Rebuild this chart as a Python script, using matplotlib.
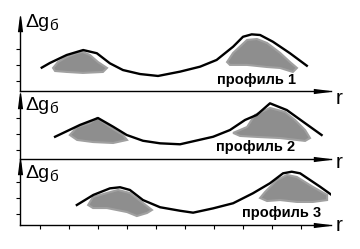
import numpy as np
import matplotlib.pyplot as plt

# кривые Δg_б по профилям (x - r, y - Δg)
x1 = [1.06, 1.34, 1.92, 2.49, 2.96, 3.41, 3.86, 4.45, 5.07, 5.83, 6.52, 7.09, 7.66, 8.0, 8.3, 8.59, 9.03, 9.62, 10.2]
y1 = [1.46, 1.75, 2.25, 2.56, 2.36, 1.73, 1.31, 1.06, 0.94, 1.21, 1.52, 1.94, 2.77, 3.39, 3.54, 3.5, 3.08, 2.36, 1.58]

x2 = [1.52, 2.38, 3.0, 3.52, 3.99, 4.55, 5.14, 5.83, 6.97, 7.55, 8.07, 8.47, 8.93, 9.51, 10.07, 10.71]
y2 = [1.39, 2.13, 2.56, 2.02, 1.5, 1.14, 0.98, 0.92, 1.39, 1.81, 2.44, 2.75, 3.48, 3.06, 2.33, 1.5]

x3 = [2.27, 2.84, 3.41, 3.76, 4.1, 4.55, 5.14, 5.83, 6.28, 6.97, 7.66, 8.34, 8.93, 9.38, 9.68, 9.97, 10.66, 11.41]
y3 = [1.25, 1.88, 2.29, 2.36, 2.19, 1.56, 1.11, 0.89, 0.77, 1.04, 1.36, 1.98, 2.61, 3.23, 3.33, 3.23, 2.39, 1.42]

# контуры тел (серые области)
tela1 = [
    ([1.45, 1.62, 1.93, 2.28, 2.48, 2.72, 3.0, 3.31, 3.17, 2.48, 1.93, 1.52],
     [1.44, 1.81, 2.13, 2.38, 2.44, 2.25, 1.81, 1.44, 1.19, 1.13, 1.19, 1.25]),
    ([7.66, 8.14, 8.48, 8.83, 9.28, 9.62, 9.86, 9.72, 9.28, 8.83, 8.14, 7.55, 7.45],
     [2.38, 3.19, 3.25, 3.0, 2.38, 1.81, 1.44, 1.19, 1.44, 1.5, 1.63, 1.63, 1.81]),
]
tela2 = [
    ([2.03, 2.28, 2.72, 2.97, 3.41, 3.86, 4.0, 3.52, 2.83, 2.28],
     [1.5, 2.0, 2.25, 2.56, 2.0, 1.5, 1.19, 1.0, 1.06, 1.19]),
    ([7.66, 8.14, 8.41, 8.93, 9.45, 9.79, 10.14, 10.31, 10.14, 9.28, 8.48, 7.9],
     [1.63, 2.0, 2.75, 3.19, 2.94, 2.44, 1.81, 1.31, 1.13, 1.31, 1.38, 1.44]),
]
tela3 = [
    ([2.66, 2.83, 3.31, 3.69, 4.1, 4.55, 4.86, 4.69, 4.34, 4.0, 3.31, 2.83],
     [1.25, 1.75, 2.0, 2.19, 2.0, 1.38, 0.94, 0.75, 0.56, 0.81, 1.06, 1.06]),
    ([8.59, 8.76, 9.17, 9.52, 9.86, 10.41, 10.9, 10.9, 10.41, 9.86, 9.28, 8.83],
     [1.69, 2.06, 2.81, 3.13, 3.0, 2.38, 1.88, 1.56, 1.44, 1.44, 1.56, 1.5]),
]

nazv = ['профиль 1', 'профиль 2', 'профиль 3']
yticks = [[0.625, 1.625, 2.625], [0.56, 1.56, 2.56], [0.69, 1.69, 2.69]]
xticks = [1, 2, 3, 4, 5, 6, 7, 8, 9, 10]

W, H = 360, 249
fig = plt.figure(figsize=(W / 100, H / 100), dpi=100)
fig.patch.set_facecolor('white')

# положение осей в пикселях: линия оси r и высота панели
os_px = [91, 159, 225]
verh = [4.44, 3.9, 3.9]
nadp_y = [(0.69, 4.0), (0.75, 3.06), (0.75, 2.94)]
nadp_x = [8.45, 8.45, 9.34]
r_y = [-0.5, -0.25, -0.06]

x_lev, x_prav = (20 - 11) / 29, (331 - 11) / 29
shrift = 'Liberation Sans'

dannye = [(x1, y1, tela1), (x2, y2, tela2), (x3, y3, tela3)]
for i, (xs, ys, tela) in enumerate(dannye):
    niz = (H - os_px[i]) / H
    ax = fig.add_axes([20 / W, niz, (331 - 20) / W, verh[i] * 16 / H])
    ax.set_xlim(x_lev, x_prav)
    ax.set_ylim(0, verh[i])
    ax.patch.set_alpha(0)
    for s in ['top', 'right']:
        ax.spines[s].set_visible(False)
    for s in ['left', 'bottom']:
        ax.spines[s].set_linewidth(1.0)
    ax.set_yticks(yticks[i])
    ax.set_yticklabels([])
    if i == 2:
        ax.set_xticks(xticks)
    else:
        ax.set_xticks([])
    ax.set_xticklabels([])
    ax.tick_params(length=3, width=0.8, direction='out')

    for tx, ty in tela:
        ax.fill(tx, ty, color='#8e8e8e', lw=1.5, ec='#a0a0a0', zorder=2)
    ax.plot(xs, ys, color='black', lw=1.7, zorder=3, solid_joinstyle='round')

    # стрелки осей
    ax.plot([x_prav - 0.35], [0], marker=[(-4, -1), (4, 0), (-4, 1)], ms=11,
            color='black', clip_on=False, zorder=4)
    ax.plot([x_lev], [verh[i] - 0.25], marker=[(-1, -4), (0, 4), (1, -4)], ms=11,
            color='black', clip_on=False, zorder=4)

    ax.text(nadp_x[i], nadp_y[i][0], nazv[i], fontsize=10.5, fontweight='bold',
            family=shrift, ha='center', va='center')
    ax.text(0.5, nadp_y[i][1], 'Δg', fontsize=14, family=shrift,
            ha='left', va='baseline')
    ax.text(1.33, nadp_y[i][1] - 0.2, 'б', fontsize=11, family=shrift,
            ha='left', va='baseline')
    ax.text(11.2, r_y[i], 'r', fontsize=15, family=shrift, ha='left',
            va='center', clip_on=False)

fig.savefig('out.png', dpi=100, facecolor='white')
